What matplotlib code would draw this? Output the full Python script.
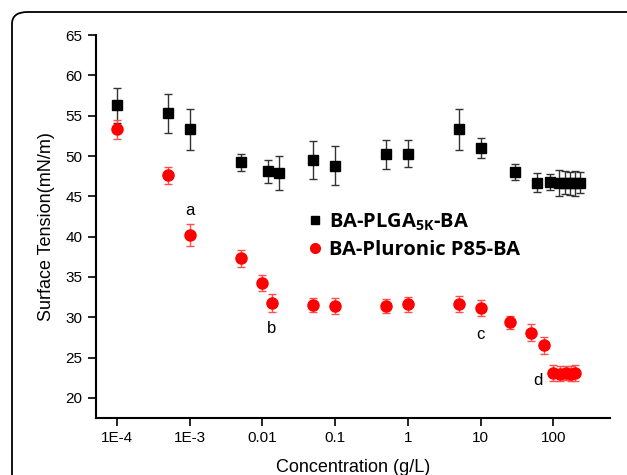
import numpy as np
import matplotlib
matplotlib.use('Agg')
import matplotlib.pyplot as plt
from matplotlib.patches import FancyBboxPatch
from matplotlib.lines import Line2D

plt.rcParams['font.family'] = ['Liberation Sans', 'DejaVu Sans']

# BA-PLGA5K-BA
conc_plga = [1e-4, 5e-4, 1e-3, 5e-3, 0.012, 0.017, 0.05, 0.1, 0.5, 1, 5, 10, 30, 60, 90,
             120, 145, 170, 200, 235]
st_plga = [56.3, 55.3, 53.3, 49.2, 48.1, 47.9, 49.5, 48.8, 50.2, 50.3, 53.3, 51.0, 48.0,
           46.7, 46.8, 46.7, 46.7, 46.6, 46.6, 46.7]
err_plga = [2.2, 2.4, 2.5, 1.1, 1.4, 2.1, 2.4, 2.4, 1.8, 1.7, 2.5, 1.3, 1.0, 1.2, 1.0,
            1.6, 1.4, 1.4, 1.5, 1.3]

# BA-Pluronic P85-BA
conc_p85 = [1e-4, 5e-4, 1e-3, 5e-3, 0.01, 0.0135, 0.05, 0.1, 0.5, 1, 5, 10, 25, 50, 75,
            100, 125, 150, 175, 200]
st_p85 = [53.3, 47.6, 40.2, 37.3, 34.2, 31.8, 31.5, 31.4, 31.4, 31.6, 31.6, 31.2, 29.4,
          28.1, 26.5, 23.1, 23.0, 23.1, 23.0, 23.1]
err_p85 = [1.2, 1.1, 1.4, 1.1, 1.0, 1.1, 0.9, 1.0, 0.9, 0.9, 1.0, 1.0, 0.8, 1.1, 1.0,
           1.0, 0.9, 0.9, 0.9, 1.0]

# labels a-d
lab_text = ['a', 'b', 'c', 'd']
lab_x = [1e-3, 0.0135, 10, 62]
lab_y = [43.2, 28.6, 27.8, 22.2]

fig = plt.figure(figsize=(6.27, 4.75), dpi=100)
ax = fig.add_axes([0.153, 0.12, 0.82, 0.806])

# outer rounded frame (cropped on the right and bottom)
frame = FancyBboxPatch((12/627, -0.2), 1.2, 1 - 12/475 + 0.2, transform=fig.transFigure,
                       boxstyle='round,pad=0,rounding_size=0.025', fill=False,
                       edgecolor='black', linewidth=1.3, clip_on=False)
fig.patches.append(frame)

ax.errorbar(conc_plga, st_plga, yerr=err_plga, fmt='s', color='black', ecolor='#333333',
            markersize=7.5, capsize=3, elinewidth=1, capthick=1, zorder=3)
ax.errorbar(conc_p85, st_p85, yerr=err_p85, fmt='o', color='#ff0000', ecolor='#ff5050',
            markersize=8, capsize=3, elinewidth=1, capthick=1, zorder=3)

for t, x, y in zip(lab_text, lab_x, lab_y):
    ax.text(x, y, t, fontsize=12, ha='center', va='center')

ax.set_xscale('log')
ax.set_xlim(10**-4.29, 10**2.78)
ax.set_ylim(17.5, 65)
ax.set_yticks(np.arange(20, 66, 5))
ax.set_xticks([1e-4, 1e-3, 1e-2, 1e-1, 1, 10, 100])
ax.set_xticklabels(['1E-4', '1E-3', '0.01', '0.1', '1', '10', '100'])
ax.minorticks_off()
ax.tick_params(axis='both', direction='out', length=6, width=1.2, labelsize=11)
for side in ['top', 'right']:
    ax.spines[side].set_visible(False)
for side in ['left', 'bottom']:
    ax.spines[side].set_linewidth(1.5)

ax.set_xlabel('Concentration (g/L)', fontsize=13, labelpad=10)
ax.set_ylabel('Surface Tension(mN/m)', fontsize=13, labelpad=8)

handles = [Line2D([], [], marker='s', ls='', color='black', markersize=6),
           Line2D([], [], marker='o', ls='', color='#ff0000', markersize=7)]
labels = [r'BA-PLGA$\mathregular{_{5K}}$-BA', 'BA-Pluronic P85-BA']
ax.legend(handles, labels, loc='upper left', bbox_to_anchor=(0.363, 0.587), frameon=False,
          handletextpad=0.0, handlelength=1.4, labelspacing=0.35,
          prop={'family': 'Open Sans', 'weight': 'bold', 'size': 14.5})

fig.savefig('out.png', dpi=100)
